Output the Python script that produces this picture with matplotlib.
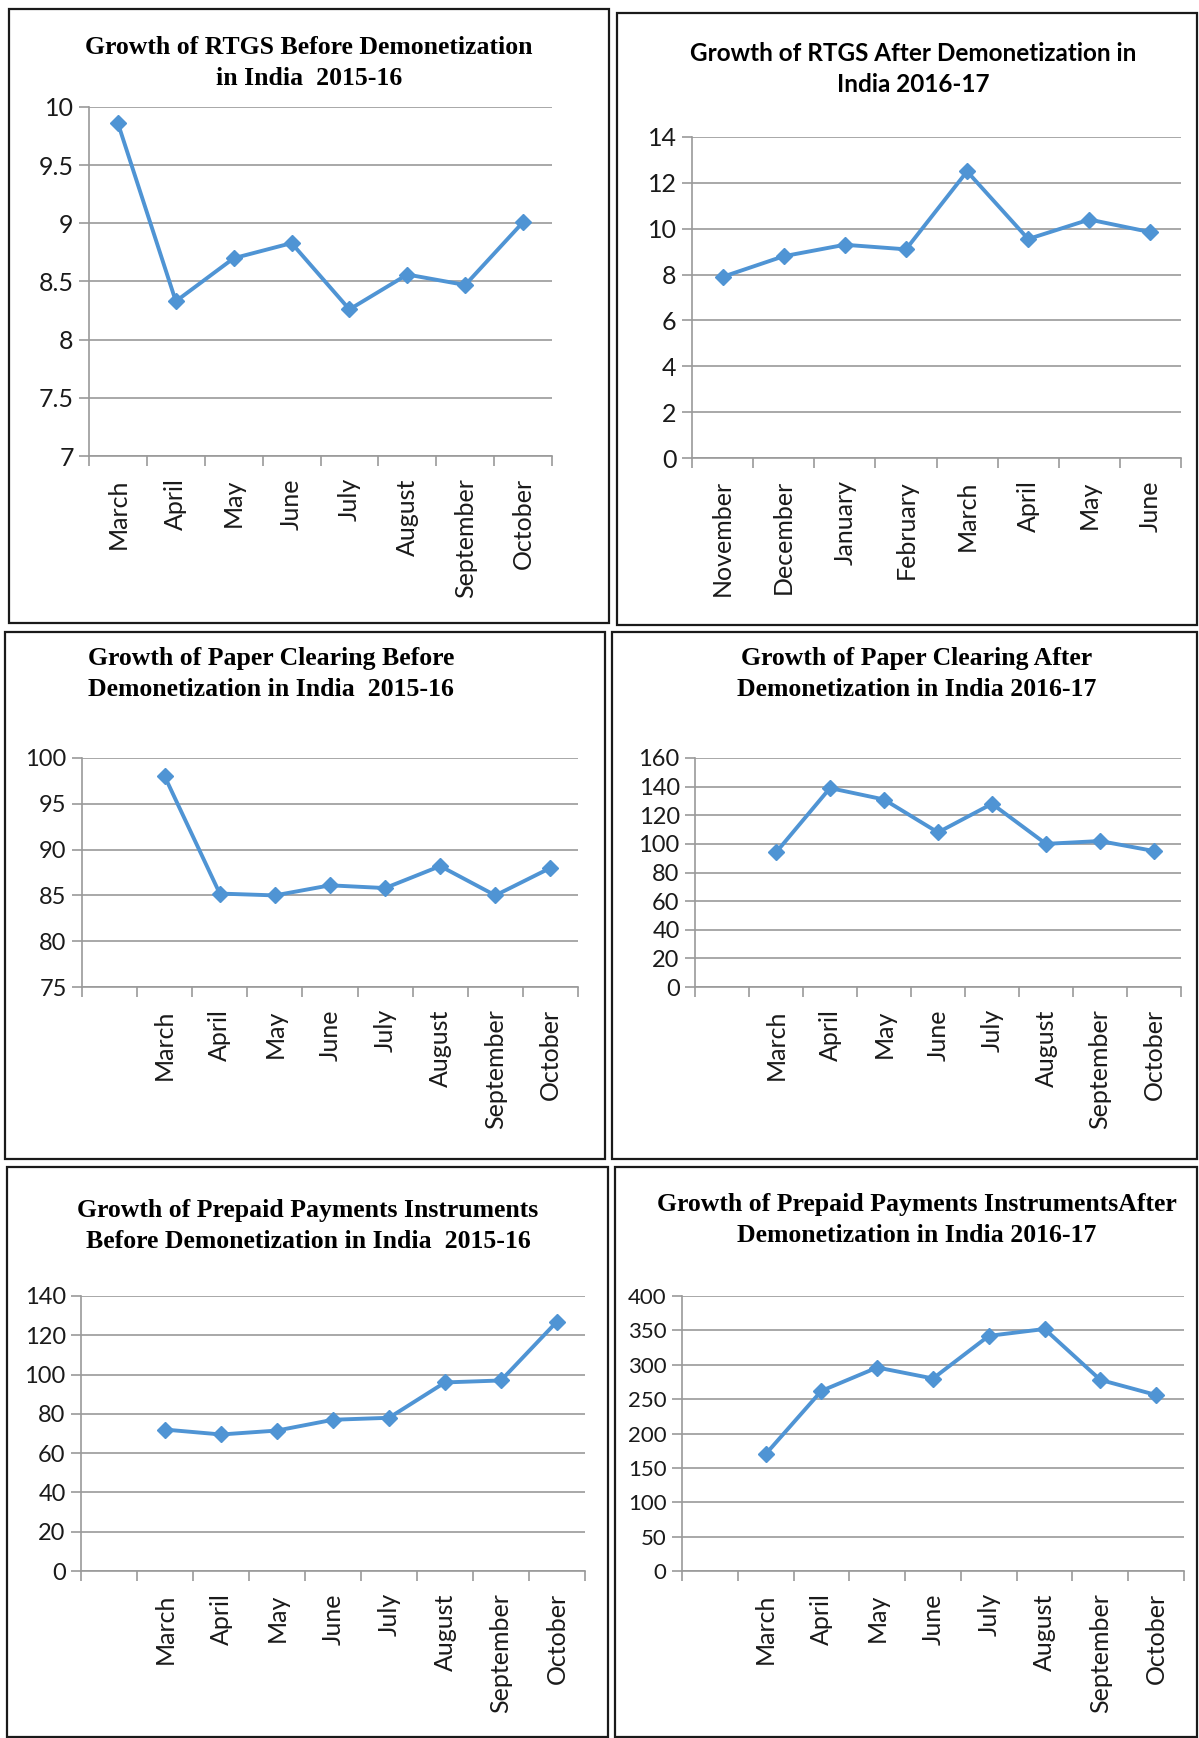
import matplotlib.pyplot as plt
from matplotlib.patches import Rectangle

W, H = 1199, 1738
LINE = '#4F94D4'
GRID = '#9a9a9a'

# top row: RTGS
rtgs_before_months = ['March', 'April', 'May', 'June', 'July', 'August', 'September', 'October']
rtgs_before = [9.86, 8.33, 8.70, 8.83, 8.26, 8.56, 8.47, 9.01]
rtgs_after_months = ['November', 'December', 'January', 'February', 'March', 'April', 'May', 'June']
rtgs_after = [7.9, 8.8, 9.3, 9.1, 12.5, 9.55, 10.4, 9.85]

# middle + bottom rows have an empty first category
months9 = ['', 'March', 'April', 'May', 'June', 'July', 'August', 'September', 'October']
paper_before = [None, 98.0, 85.2, 85.0, 86.1, 85.8, 88.2, 85.0, 88.0]
paper_after = [None, 94, 139, 131, 108, 128, 100, 102, 95]
ppi_before = [None, 72, 69.5, 71.5, 77, 78, 96, 97, 127]
ppi_after = [None, 170, 262, 296, 280, 342, 352, 278, 256]

titles = [
    "Growth of RTGS Before Demonetization\nin India  2015-16",
    "Growth of RTGS After Demonetization in\nIndia 2016-17",
    "Growth of Paper Clearing Before\nDemonetization in India  2015-16",
    "Growth of Paper Clearing After\nDemonetization in India 2016-17",
    "Growth of Prepaid Payments Instruments\nBefore Demonetization in India  2015-16",
    "Growth of Prepaid Payments InstrumentsAfter\nDemonetization in India 2016-17",
]

fig = plt.figure(figsize=(W / 100, H / 100), dpi=100)


def box(l, t, r, b):
    fig.add_artist(Rectangle((l / W, 1 - b / H), (r - l) / W, (b - t) / H,
                             transform=fig.transFigure, fill=False,
                             edgecolor='#1a1a1a', linewidth=1.6))


def panel(rect, cats, vals, ylim, ystep, ylab_size=18):
    l, t, r, b = rect
    ax = fig.add_axes([l / W, 1 - b / H, (r - l) / W, (b - t) / H])
    n = len(cats)
    xs = [i for i, v in enumerate(vals) if v is not None]
    ys = [v for v in vals if v is not None]
    ax.plot(xs, ys, color=LINE, lw=2.8, marker='D', ms=8.5, zorder=3)
    ax.set_xlim(-0.5, n - 0.5)
    ax.set_ylim(*ylim)
    yt = []
    v = ylim[0]
    while v <= ylim[1] + 1e-9:
        yt.append(v)
        v += ystep
    ax.set_yticks(yt)
    ax.set_yticklabels(['%g' % y for y in yt], fontsize=ylab_size, family='Lato', color='#1a1a1a')
    ax.set_xticks(range(n))
    ax.set_xticklabels(cats, rotation=90, fontsize=18, family='Lato', color='#1a1a1a')
    ax.set_xticks([i - 0.5 for i in range(n + 1)], minor=True)
    ax.tick_params(axis='x', which='major', length=0, pad=16)
    ax.tick_params(axis='x', which='minor', length=7, width=1.2, color=GRID, direction='out')
    ax.tick_params(axis='y', length=7, width=1.2, color=GRID, direction='out', pad=4)
    ax.grid(axis='y', color=GRID, lw=1.2)
    ax.set_axisbelow(True)
    for s in ['top', 'right']:
        ax.spines[s].set_visible(False)
    for s in ['left', 'bottom']:
        ax.spines[s].set_color(GRID)
        ax.spines[s].set_linewidth(1.2)
    return ax


# panel frames
box(9, 9, 609, 623)
box(617, 13, 1197, 625)
box(5, 632, 605, 1159)
box(612, 632, 1197, 1159)
box(7, 1167, 608, 1737)
box(615, 1167, 1197, 1737)

panel((89, 107, 552, 456), rtgs_before_months, rtgs_before, (7, 10), 0.5)
panel((692, 137, 1181, 458), rtgs_after_months, rtgs_after, (0, 14), 2)
panel((82, 758, 578, 987), months9, paper_before, (75, 100), 5, 17)
panel((695, 758, 1181, 987), months9, paper_after, (0, 160), 20, 17)
panel((81, 1296, 585, 1571), months9, ppi_before, (0, 140), 20, 17)
panel((682, 1296, 1184, 1571), months9, ppi_after, (0, 400), 50, 16)

# titles: (center x, center y of the two lines)
serif = dict(family='Liberation Serif', weight='bold', fontsize=18.5,
             ha='center', va='center', linespacing=1.45)
fig.text(309 / W, 1 - 63 / H, titles[0], **serif)
fig.text(913 / W, 1 - 69 / H, titles[1], family='Lato', weight='bold', fontsize=17.5,
         ha='center', va='center', linespacing=1.45)
fig.text(271 / W, 1 - 674 / H, titles[2], **serif)
fig.text(917 / W, 1 - 674 / H, titles[3], **serif)
fig.text(308 / W, 1 - 1226 / H, titles[4], **serif)
fig.text(917 / W, 1 - 1220 / H, titles[5], **serif)

fig.savefig('out.png', dpi=100)
